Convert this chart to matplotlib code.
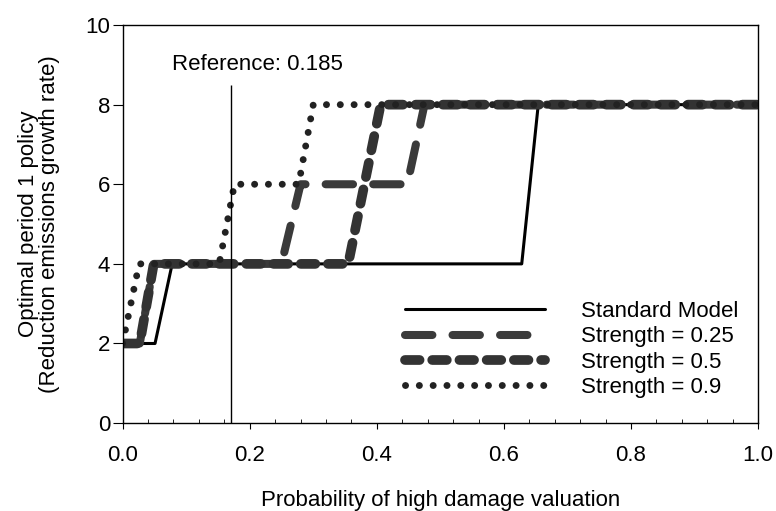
import numpy as np
import matplotlib
matplotlib.use("Agg")
import matplotlib.pyplot as plt
import matplotlib.ticker as mtick

plt.rcParams['font.family'] = ['Liberation Sans', 'DejaVu Sans']

# step curves (x = probability, y = policy)
std_x = [0.0, 0.051, 0.078, 0.628, 0.654, 1.0]
std_y = [2, 2, 4, 4, 8, 8]

s25_x = [0.0, 0.027, 0.049, 0.25, 0.28, 0.448, 0.475, 1.0]
s25_y = [2, 2, 4, 4, 6, 6, 8, 8]

s50_x = [0.0, 0.027, 0.049, 0.355, 0.406, 1.0]
s50_y = [2, 2, 4, 4, 8, 8]

s90_x = [0.0, 0.026, 0.152, 0.176, 0.277, 0.30, 1.0]
s90_y = [2, 4, 4, 6, 6, 8, 8]

labels = ['Standard Model', 'Strength = 0.25', 'Strength = 0.5', 'Strength = 0.9']
ref_x = 0.171
ref_top = 8.5
ref_text = 'Reference: 0.185'

fig = plt.figure(figsize=(7.76, 5.11), dpi=100)
ax = fig.add_axes([0.158, 0.172, 0.819, 0.779])

ax.plot(std_x, std_y, color='black', lw=2.2, solid_capstyle='round',
        solid_joinstyle='round', label=labels[0])
ax.plot(s25_x, s25_y, color='#3a3a3a', lw=5.8, dashes=(3.4, 2.5),
        dash_capstyle='round', dash_joinstyle='round', label=labels[1])
ax.plot(s50_x, s50_y, color='#333333', lw=7.0, dashes=(1.5, 1.3),
        dash_capstyle='round', dash_joinstyle='round', label=labels[2])
ax.plot(s90_x, s90_y, color='#222222', lw=5.0, dashes=(0.01, 1.98),
        dash_capstyle='round', label=labels[3])

ax.vlines(ref_x, 0, ref_top, color='black', lw=1.0)
ax.text(0.212, 9.0, ref_text, fontsize=16, ha='center', va='center')

ax.set_xlim(0, 1.0)
ax.set_ylim(0, 10)
ax.xaxis.set_major_locator(mtick.MultipleLocator(0.2))
ax.xaxis.set_minor_locator(mtick.MultipleLocator(0.04))
ax.xaxis.set_major_formatter(mtick.FormatStrFormatter('%.1f'))
ax.yaxis.set_major_locator(mtick.MultipleLocator(2))
ax.tick_params(axis='x', which='major', direction='out', length=4, pad=12, labelsize=16)
ax.tick_params(axis='x', which='minor', direction='in', length=3)
ax.tick_params(axis='y', which='major', direction='out', length=7, pad=2, labelsize=16)
for sp in ax.spines.values():
    sp.set_linewidth(1.0)

ax.set_xlabel('Probability of high damage valuation', fontsize=16, labelpad=17)
ax.set_ylabel('Optimal period 1 policy\n(Reduction emissions growth rate)',
              fontsize=16, labelpad=18, linespacing=1.02)

ax.legend(loc='upper left', bbox_to_anchor=(0.444, 0.307), frameon=False,
          fontsize=16, handlelength=6.3, handletextpad=1.65, labelspacing=0.2,
          borderpad=0, borderaxespad=0)

fig.savefig('out.png', dpi=100)
